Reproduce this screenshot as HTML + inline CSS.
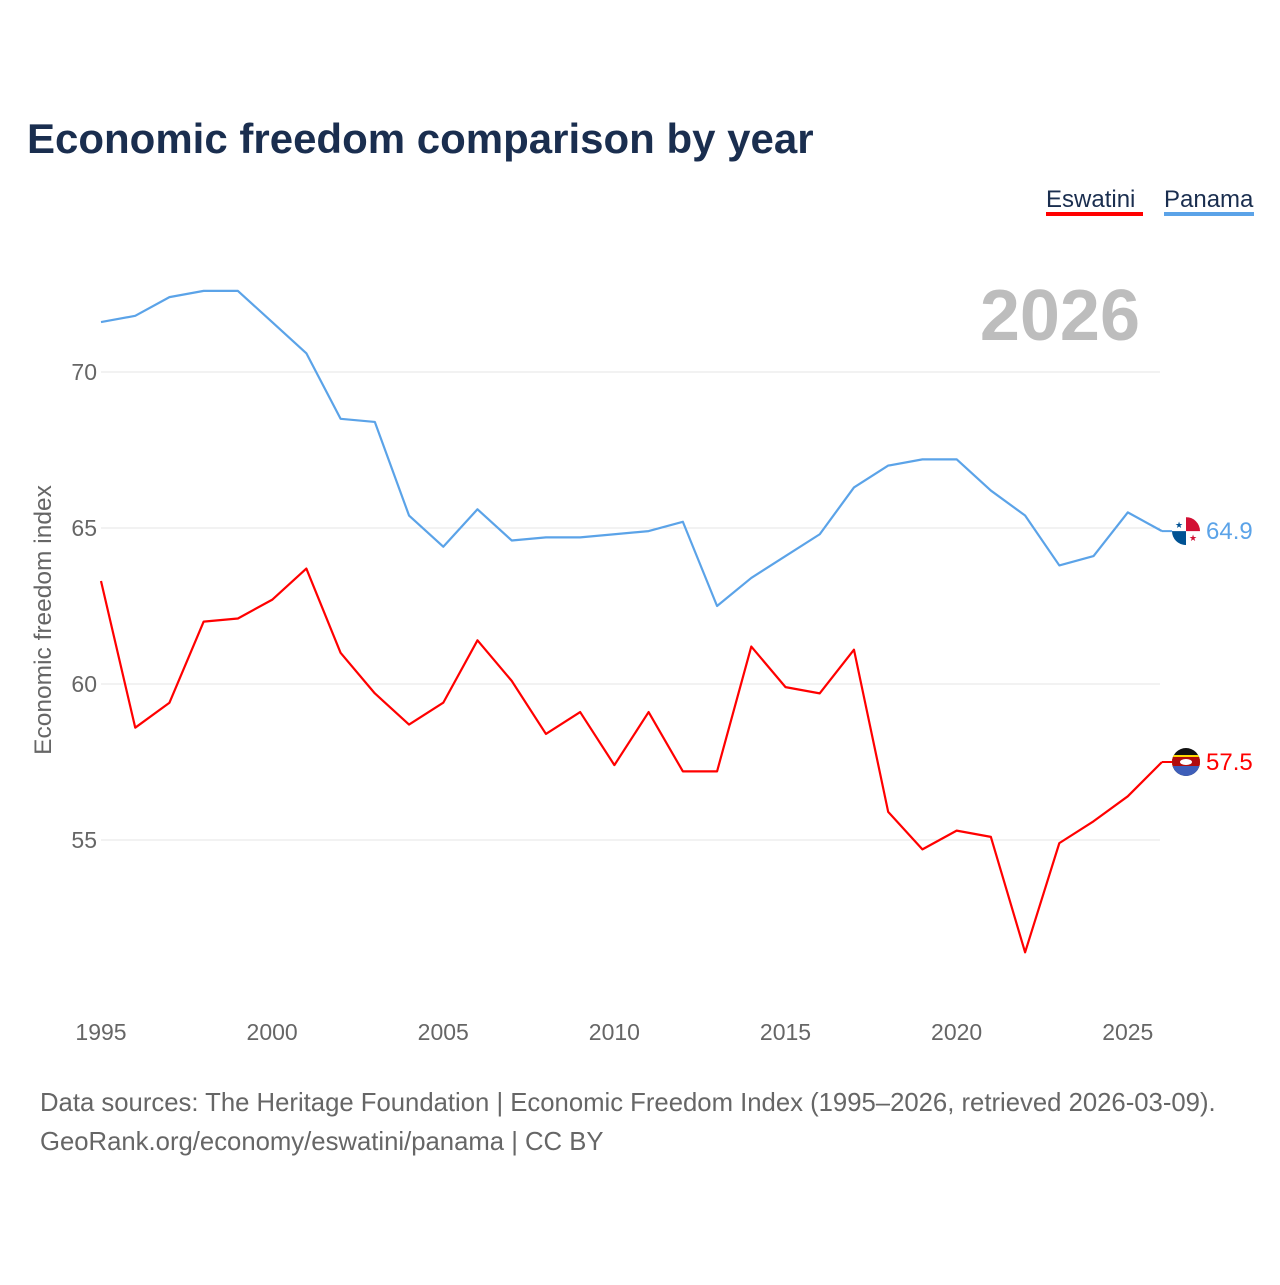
<!DOCTYPE html>
<html><head><meta charset="utf-8">
<style>
body{margin:0;background:#fff;font-family:"Liberation Sans",sans-serif;}
svg text{font-family:"Liberation Sans",sans-serif;}
</style></head>
<body>
<svg width="1280" height="1280" viewBox="0 0 1280 1280">
<rect width="1280" height="1280" fill="#fff"/>
<defs>
<clipPath id="cp1"><circle cx="0" cy="0" r="14"/></clipPath>
</defs>
<text x="27" y="153" font-size="42" font-weight="bold" fill="#1a2e4f">Economic freedom comparison by year</text>
<g>
<text x="1046" y="207" font-size="24" fill="#1a2e4f">Eswatini</text>
<rect x="1046" y="212" width="97" height="4" fill="#ff0000"/>
</g>
<g>
<text x="1164" y="207" font-size="24" fill="#1a2e4f">Panama</text>
<rect x="1164" y="212" width="90" height="4" fill="#5ba3e8"/>
</g>
<text x="1140" y="340" font-size="72" font-weight="bold" fill="#bdbdbd" text-anchor="end">2026</text>
<g id="grid"></g>
<g id="lines"></g>
<text transform="translate(51,620) rotate(-90)" font-size="24.5" fill="#666" text-anchor="middle">Economic freedom index</text>
<text x="40" y="1111" font-size="25.7" fill="#666">Data sources: The Heritage Foundation | Economic Freedom Index (1995–2026, retrieved 2026-03-09).</text>
<text x="40" y="1150" font-size="25.7" fill="#666">GeoRank.org/economy/eswatini/panama | CC BY</text>
</svg>
<script>
const years=[1995,1996,1997,1998,1999,2000,2001,2002,2003,2004,2005,2006,2007,2008,2009,2010,2011,2012,2013,2014,2015,2016,2017,2018,2019,2020,2021,2022,2023,2024,2025,2026];
const panama=[71.6,71.8,72.4,72.6,72.6,71.6,70.6,68.5,68.4,65.4,64.4,65.6,64.6,64.7,64.7,64.8,64.9,65.2,62.5,63.4,64.1,64.8,66.3,67.0,67.2,67.2,66.2,65.4,63.8,64.1,65.5,64.9];
const eswatini=[63.3,58.6,59.4,62.0,62.1,62.7,63.7,61.0,59.7,58.7,59.4,61.4,60.1,58.4,59.1,57.4,59.1,57.2,57.2,61.2,59.9,59.7,61.1,55.9,54.7,55.3,55.1,51.4,54.9,55.6,56.4,57.5];
const yTicks=[55,60,65,70];
const xTicks=[1995,2000,2005,2010,2015,2020,2025];
const NS="http://www.w3.org/2000/svg";
const xs=y=>101+(y-1995)*(1162-101)/31;
const ys=v=>372+(70-v)*31.2;
const grid=document.getElementById('grid'),lines=document.getElementById('lines');
function mk(tag,attrs,parent,txt){const e=document.createElementNS(NS,tag);for(const k in attrs)e.setAttribute(k,attrs[k]);if(txt!=null)e.textContent=txt;parent.appendChild(e);return e;}
yTicks.forEach(t=>{
 const l=mk('line',{x1:101,x2:1160,y1:ys(t),y2:ys(t),stroke:'#e6e6e6','stroke-width':1},grid);
 
 
 const tx=mk('text',{x:97,y:ys(t)+8,'font-size':23,fill:'#666','text-anchor':'end'},grid,String(t));
 
 
});
xTicks.forEach(t=>{
 const tx=mk('text',{x:xs(t),y:1040,'font-size':23,fill:'#666','text-anchor':'middle'},grid,String(t));
 
 
});
function flag(g,name){
 const c='clip-path';
 if(name==='panama'){
  mk('rect',{x:-14,y:-14,width:28,height:28,fill:'#fff'},g);
  mk('rect',{x:0,y:-14,width:14,height:14,fill:'#d21034'},g);
  mk('rect',{x:-14,y:0,width:14,height:14,fill:'#005293'},g);
  mk('text',{x:-7,y:-3,'font-size':9,fill:'#005293','text-anchor':'middle'},g,'★');
  mk('text',{x:7,y:10,'font-size':9,fill:'#d21034','text-anchor':'middle'},g,'★');
 }else{
  mk('rect',{x:-14,y:-14,width:28,height:28,fill:'#111'},g);
  mk('rect',{x:-14,y:-7,width:28,height:14,fill:'#ffd900'},g);
  mk('rect',{x:-14,y:-5,width:28,height:10,fill:'#b10c0c'},g);
  mk('rect',{x:-14,y:4,width:28,height:10,fill:'#3e5eb9'},g);
  mk('ellipse',{cx:0,cy:0,rx:6,ry:3,fill:'#fff'},g);
 }
}
function series(vals,color,name){
 const p=mk('polyline',{points:vals.map((v,i)=>xs(years[i])+','+ys(v)).join(' '),fill:'none',stroke:color,'stroke-width':2.2,'stroke-linejoin':'round'},lines);
 
 
 const last=vals[vals.length-1],lx=xs(years[years.length-1]),ly=ys(last);
 mk('line',{x1:lx,x2:lx+12,y1:ly,y2:ly,stroke:color,'stroke-width':2},lines);
 const g=mk('g',{transform:'translate('+(lx+24)+','+ly+')','clip-path':'url(#cp1)'},lines);
 
 
 flag(g,name);
 const t=mk('text',{x:lx+44,y:ly+8,'font-size':24,fill:color},lines,last.toFixed(1));
 
 
}
series(panama,'#5ba3e8','panama');
series(eswatini,'#ff0000','eswatini');
</script>
</body></html>
